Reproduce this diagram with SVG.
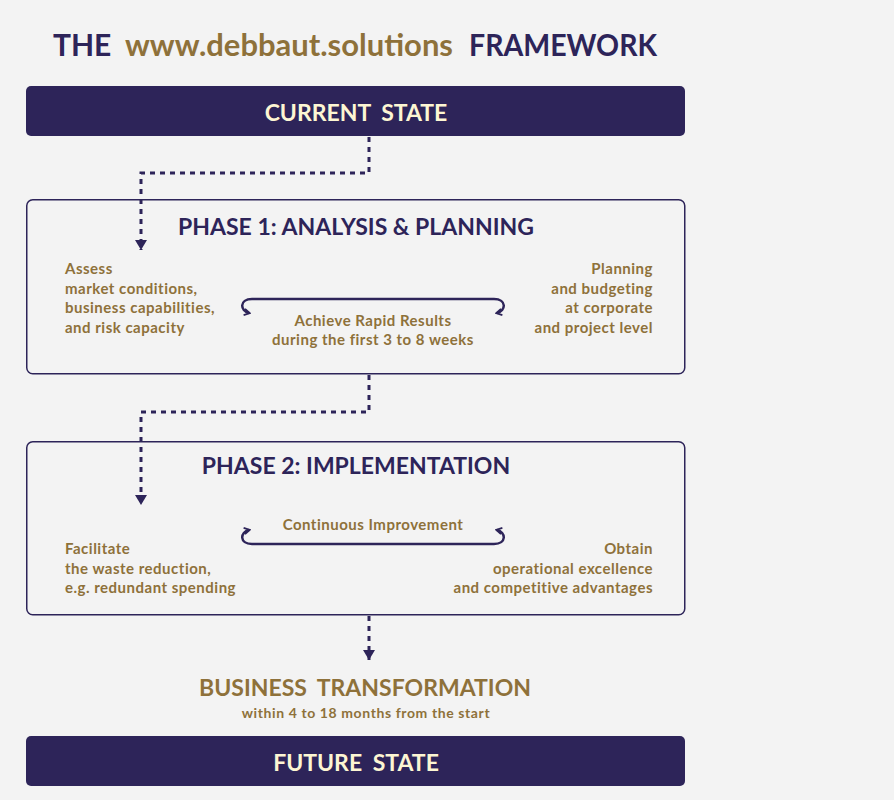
<svg xmlns="http://www.w3.org/2000/svg" width="894" height="800" viewBox="0 0 894 800">
  <style>
    .bg { fill: #f3f3f3; }
    .bar { fill: #2d2459; }
    .panel { fill: #f3f3f3; stroke: #2d2459; stroke-width: 1.5; }
    .navy { fill: #2d2459; }
    .gold { fill: #8e713a; }
    .cream { fill: #fdf6d3; }
    text { font-family: Lato, "Open Sans", "Liberation Sans", sans-serif; font-weight: bold; }
    .title { font-size: 30px; }
    .head { font-size: 23px; }
    .body { font-size: 15px; letter-spacing: 0.5px; }
    .small { font-size: 14px; letter-spacing: 0.6px; }
    .flow { fill: none; stroke: #2d2459; stroke-width: 3; stroke-dasharray: 5 5; }
    .loop { fill: none; stroke: #2d2459; stroke-width: 2.5; }
  </style>
  <defs>
    <!-- solid triangle head for the dotted flow lines -->
    <marker id="tri" viewBox="0 0 10 12" refX="10" refY="6" markerWidth="10" markerHeight="12" markerUnits="userSpaceOnUse" orient="auto">
      <path d="M0 0 L10 6 L0 12 Z" fill="#2d2459"/>
    </marker>
    <!-- open chevron head for the loop arrows -->
    <marker id="hook" viewBox="0 0 10 10" refX="7" refY="5" markerWidth="8" markerHeight="8" markerUnits="userSpaceOnUse" orient="auto-start-reverse">
      <path d="M1 1 L8 5 L1 9" fill="none" stroke="#2d2459" stroke-width="2.2"/>
    </marker>
  </defs>

  <rect class="bg" x="0" y="0" width="894" height="800"/>

  <g id="title">
    <text class="title navy" x="53" y="56">THE</text>
    <text class="title gold" x="125" y="56" textLength="328" lengthAdjust="spacingAndGlyphs">www.debbaut.solutions</text>
    <text class="title navy" x="469" y="56" textLength="188" lengthAdjust="spacingAndGlyphs">FRAMEWORK</text>
  </g>

  <g id="current-state">
    <rect class="bar" x="26" y="86" width="659" height="50" rx="5"/>
    <text class="head cream" x="356" y="121" text-anchor="middle" word-spacing="5">CURRENT STATE</text>
  </g>

  <g id="phase-1">
    <rect class="panel" x="26.75" y="199.75" width="658" height="174" rx="6"/>
    <text class="head navy" x="356" y="235" text-anchor="middle">PHASE 1: ANALYSIS &amp; PLANNING</text>
    <text class="body gold" x="65" y="274">Assess</text>
    <text class="body gold" x="65" y="293.5">market conditions,</text>
    <text class="body gold" x="65" y="313">business capabilities,</text>
    <text class="body gold" x="65" y="332.5">and risk capacity</text>
    <text class="body gold" x="653" y="274" text-anchor="end">Planning</text>
    <text class="body gold" x="653" y="293.5" text-anchor="end">and budgeting</text>
    <text class="body gold" x="653" y="313" text-anchor="end">at corporate</text>
    <text class="body gold" x="653" y="332.5" text-anchor="end">and project level</text>
    <path class="loop" d="M249 313 C240 311, 239 299, 252 299 L494 299 C507 299, 506 311, 497 313" marker-start="url(#hook)" marker-end="url(#hook)"/>
    <text class="body gold" x="373" y="326" text-anchor="middle">Achieve Rapid Results</text>
    <text class="body gold" x="373" y="345" text-anchor="middle">during the first 3 to 8 weeks</text>
  </g>

  <g id="phase-2">
    <rect class="panel" x="26.75" y="441.75" width="658" height="173" rx="6"/>
    <text class="head navy" x="356" y="474" text-anchor="middle" font-size="22.5">PHASE 2: IMPLEMENTATION</text>
    <text class="body gold" x="373" y="530" text-anchor="middle">Continuous Improvement</text>
    <path class="loop" d="M249 530 C240 532, 239 544, 252 544 L494 544 C507 544, 506 532, 497 530" marker-start="url(#hook)" marker-end="url(#hook)"/>
    <text class="body gold" x="65" y="554">Facilitate</text>
    <text class="body gold" x="65" y="573.5">the waste reduction,</text>
    <text class="body gold" x="65" y="593">e.g. redundant spending</text>
    <text class="body gold" x="653" y="554" text-anchor="end">Obtain</text>
    <text class="body gold" x="653" y="573.5" text-anchor="end">operational excellence</text>
    <text class="body gold" x="653" y="593" text-anchor="end">and competitive advantages</text>
  </g>

  <g id="transformation">
    <text class="head gold" x="365" y="696" text-anchor="middle" word-spacing="5">BUSINESS TRANSFORMATION</text>
    <text class="small gold" x="366" y="718" text-anchor="middle">within 4 to 18 months from the start</text>
  </g>

  <g id="future-state">
    <rect class="bar" x="26" y="736" width="659" height="50" rx="5"/>
    <text class="head cream" x="356" y="771" text-anchor="middle" word-spacing="5">FUTURE STATE</text>
  </g>

  <g id="connectors">
    <path class="flow" d="M369 137 V173 H141 V250" marker-end="url(#tri)"/>
    <path class="flow" d="M369 375 V412 H141 V505" marker-end="url(#tri)"/>
    <path class="flow" d="M369 616 V660" marker-end="url(#tri)"/>
  </g>
</svg>
